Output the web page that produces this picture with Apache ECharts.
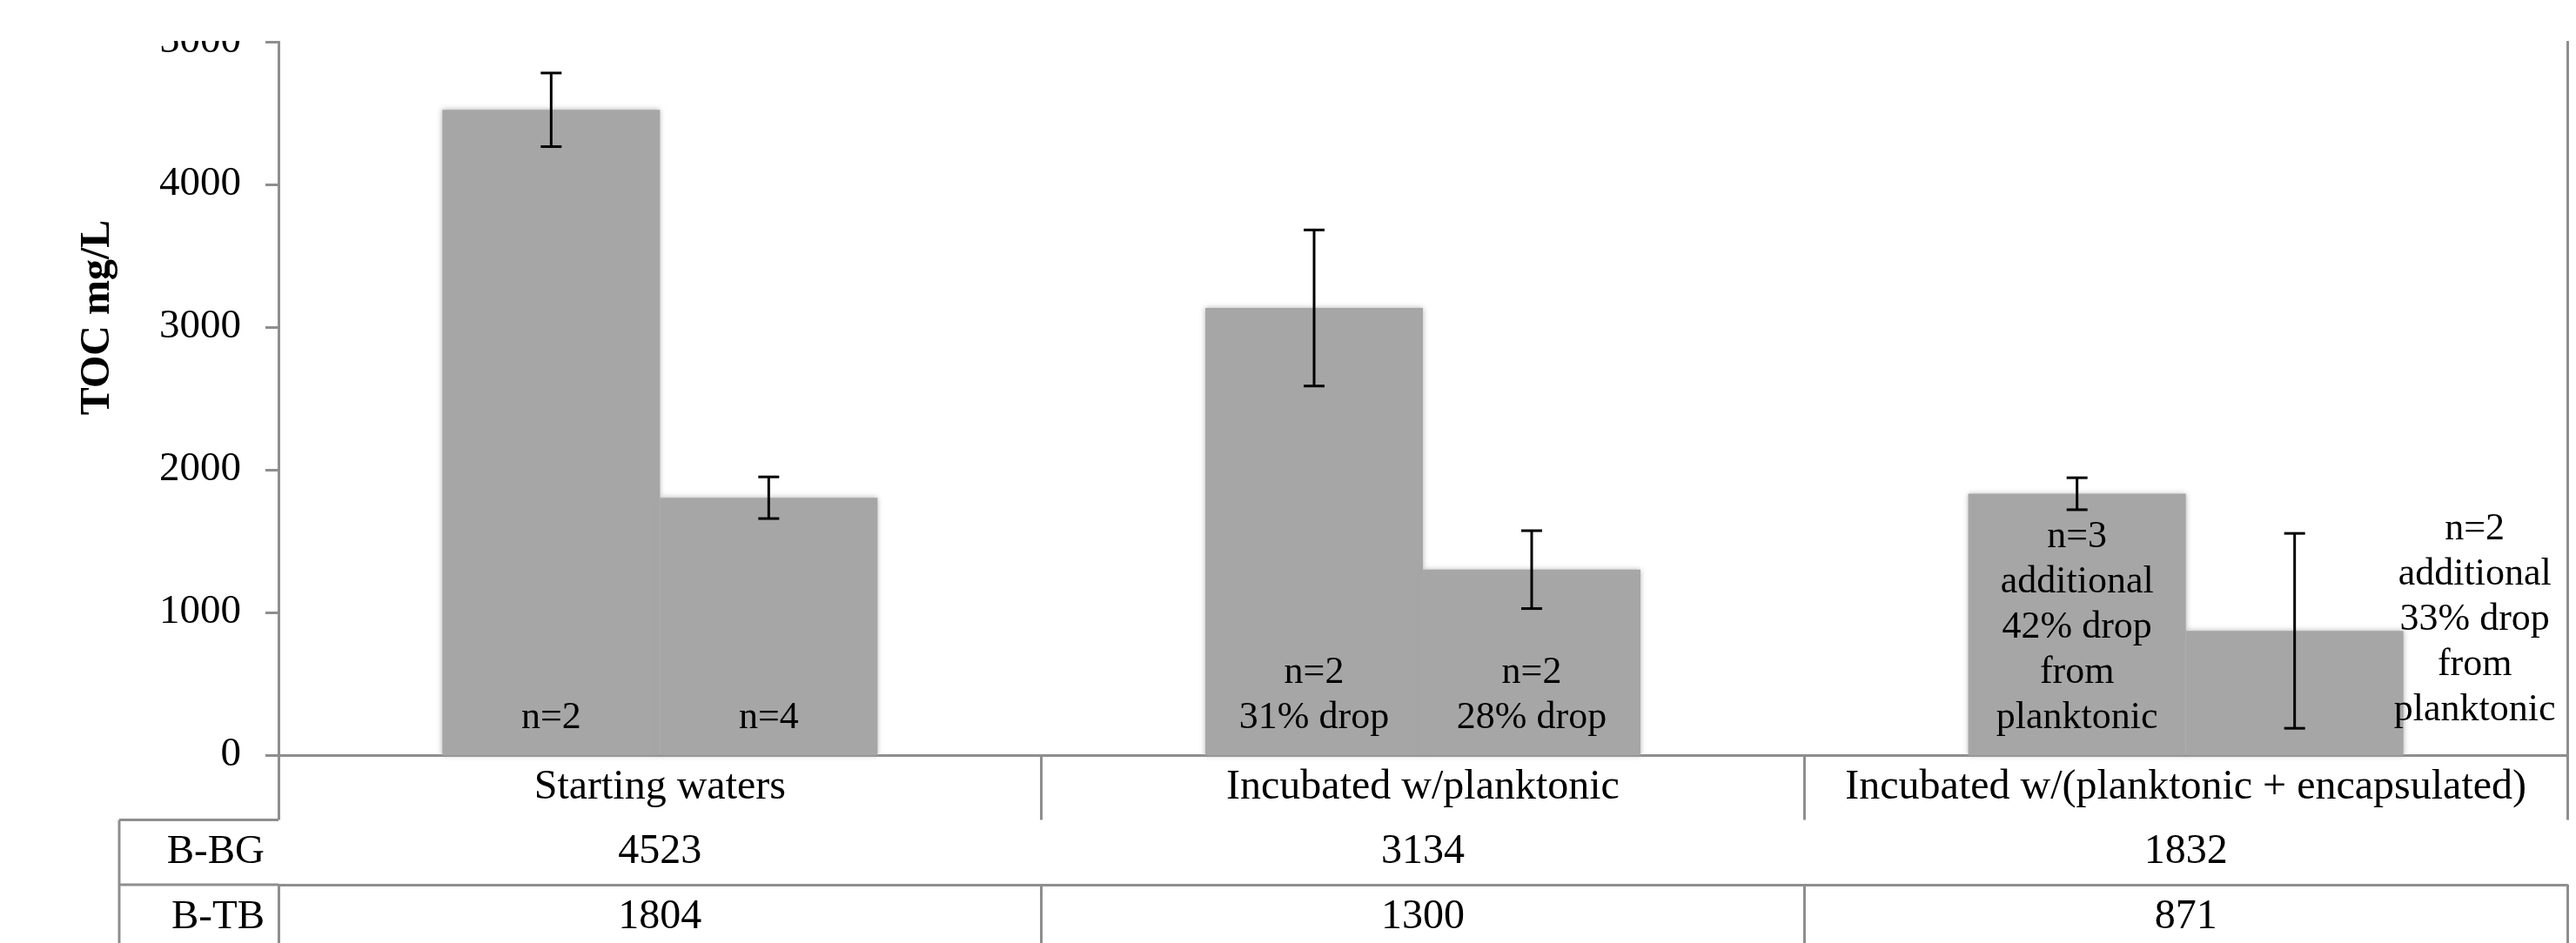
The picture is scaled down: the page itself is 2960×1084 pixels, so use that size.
<!DOCTYPE html>
<html>
<head>
<meta charset="utf-8">
<script src="https://cdn.jsdelivr.net/npm/echarts@6/dist/echarts.min.js"></script>
<style>
  html, body { margin: 0; padding: 0; background: #fff; }
  #chart { width: 2960px; height: 1084px; }
</style>
</head>
<body>
<div id="chart"></div>
<script>
// 数据
const categories = ['Starting waters', 'Incubated w/planktonic', 'Incubated w/(planktonic + encapsulated)'];
const rowNames = ['B-BG', 'B-TB'];
const bgValues = [4523, 3134, 1832];
const tbValues = [1804, 1300, 871];
const bgErrors = [258, 547, 112];
const tbErrors = [146, 273, 683];
const bgNotes = ['n=2', 'n=2\n31% drop', 'n=3\nadditional\n42% drop\nfrom\nplanktonic'];
const tbNotes = ['n=4', 'n=2\n28% drop', 'n=2\nadditional\n33% drop\nfrom\nplanktonic'];
const yMin = 0, yMax = 5000, yStep = 1000;

const FONT = '"Liberation Serif", "Times New Roman", serif';
const LINE = '#8e8e8e';
const BAR_W = 250;
const GRID = { left: 320, right: 10, top: 48, bottom: 216 };
const AXIS_Y = 1084 - GRID.bottom;
const ROW_H = 74.5;

const myChart = echarts.init(document.getElementById('chart'));

// 误差线
function errorSeries(values, errors, shift) {
  return {
    type: 'custom',
    z: 5,
    data: values.map((v, i) => [i, v, errors[i]]),
    renderItem(params, api) {
      const idx = api.value(0);
      const mean = api.value(1);
      const err = api.value(2);
      const x = api.coord([idx, 0])[0] + shift;
      const hi = api.coord([idx, mean + err])[1];
      const lo = api.coord([idx, mean - err])[1];
      const st = { stroke: '#000', lineWidth: 3 };
      return {
        type: 'group',
        children: [
          { type: 'line', shape: { x1: x, y1: hi, x2: x, y2: lo }, style: st },
          { type: 'line', shape: { x1: x - 12, y1: hi, x2: x + 12, y2: hi }, style: st },
          { type: 'line', shape: { x1: x - 12, y1: lo, x2: x + 12, y2: lo }, style: st }
        ]
      };
    }
  };
}

function barSeries(name, values, notes, lastOffset) {
  return {
    name: name,
    type: 'bar',
    barWidth: BAR_W,
    barGap: '0%',
    data: values.map((v, i) => (lastOffset && i === values.length - 1)
      ? { value: v, label: { offset: lastOffset } }
      : v),
    itemStyle: {
      color: '#a6a6a6',
      shadowBlur: 6,
      shadowColor: 'rgba(166,166,166,0.9)'
    },
    label: {
      show: true,
      position: 'insideBottom',
      distance: 17,
      color: '#000',
      fontFamily: FONT,
      fontSize: 44,
      lineHeight: 52,
      formatter: (p) => notes[p.dataIndex]
    }
  };
}

// 表格的坐标轴（类目行 + 两个数值行）
function tableAxis(offset, formatter) {
  return {
    type: 'category',
    data: categories,
    position: 'bottom',
    offset: offset,
    axisLine: { show: true, lineStyle: { color: LINE, width: 3 } },
    axisTick: { show: true, length: ROW_H, lineStyle: { color: LINE, width: 3 } },
    axisLabel: {
      interval: 0,
      margin: 13,
      color: '#000',
      fontFamily: FONT,
      fontSize: 48,
      lineHeight: 48,
      formatter: formatter
    },
    splitLine: { show: false }
  };
}

const option = {
  backgroundColor: '#fff',
  animation: false,
  grid: GRID,
  xAxis: [
    tableAxis(0, (v) => v),
    tableAxis(ROW_H, (v, i) => String(bgValues[i])),
    tableAxis(ROW_H * 2, (v, i) => String(tbValues[i]))
  ],
  yAxis: [
    {
      type: 'value',
      min: yMin,
      max: yMax,
      interval: yStep,
      axisLine: { show: true, lineStyle: { color: LINE, width: 3 } },
      axisTick: { show: true, length: 15, lineStyle: { color: LINE, width: 3 } },
      axisLabel: { margin: 43, color: '#000', fontFamily: FONT, fontSize: 47, formatter: (v) => String(v) },
      splitLine: { show: false }
    },
    {
      type: 'value',
      position: 'right',
      min: yMin,
      max: yMax,
      interval: yStep,
      axisLine: { show: true, lineStyle: { color: LINE, width: 3 } },
      axisTick: { show: false },
      axisLabel: { show: false },
      splitLine: { show: false }
    }
  ],
  series: [
    barSeries(rowNames[0], bgValues, bgNotes),
    barSeries(rowNames[1], tbValues, tbNotes, [207, -9]),
    errorSeries(bgValues, bgErrors, -BAR_W / 2),
    errorSeries(tbValues, tbErrors, BAR_W / 2)
  ],
  graphic: [
    // 顶部被裁切的白条
    { type: 'rect', z: 100, shape: { x: 0, y: 0, width: 2960, height: 47 }, style: { fill: '#fff' } },
    // 纵轴标题
    {
      type: 'text', x: 113, y: 365, rotation: Math.PI / 2,
      style: { text: 'TOC mg/L', align: 'center', verticalAlign: 'middle', fill: '#000',
               font: 'bold 48px ' + FONT }
    },
    // 表格左侧行头
    { type: 'line', shape: { x1: 137, y1: AXIS_Y + ROW_H, x2: GRID.left, y2: AXIS_Y + ROW_H },
      style: { stroke: LINE, lineWidth: 3 } },
    { type: 'line', shape: { x1: 137, y1: AXIS_Y + ROW_H * 2, x2: GRID.left, y2: AXIS_Y + ROW_H * 2 },
      style: { stroke: LINE, lineWidth: 3 } },
    { type: 'line', shape: { x1: 137, y1: AXIS_Y + ROW_H, x2: 137, y2: 1084 },
      style: { stroke: LINE, lineWidth: 3 } },
    {
      type: 'text', x: 304, y: AXIS_Y + ROW_H * 1.5,
      style: { text: rowNames[0], align: 'right', verticalAlign: 'middle', fill: '#000', font: '47px ' + FONT }
    },
    {
      type: 'text', x: 304, y: AXIS_Y + ROW_H * 2.5,
      style: { text: rowNames[1], align: 'right', verticalAlign: 'middle', fill: '#000', font: '47px ' + FONT }
    }
  ]
};

myChart.setOption(option);
</script>
</body>
</html>
